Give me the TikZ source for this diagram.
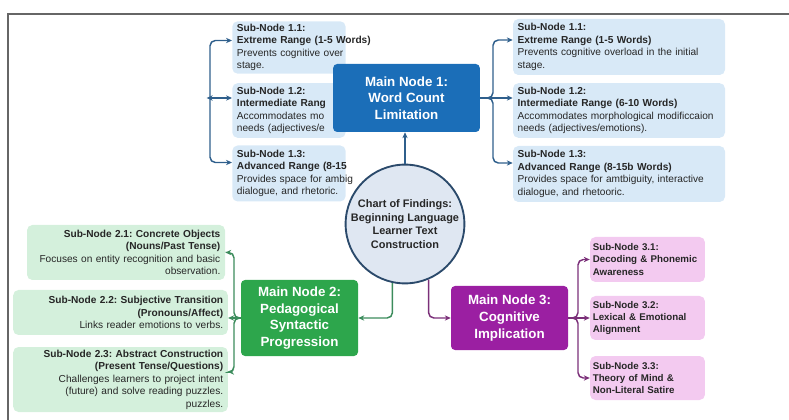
\documentclass[tikz,border=0pt]{standalone}
\usepackage{fontspec}
\setmainfont{Liberation Sans}
\usetikzlibrary{arrows.meta}

\definecolor{framegray}{HTML}{666666}
\definecolor{mainblue}{HTML}{1B6EB8}
\definecolor{subblue}{HTML}{D8E9F7}
\definecolor{lineblue}{HTML}{2F5F8C}
\definecolor{hubfill}{HTML}{DFE7F2}
\definecolor{hubline}{HTML}{2B4A6B}
\definecolor{maingreen}{HTML}{2DA64C}
\definecolor{subgreen}{HTML}{D4F0DC}
\definecolor{linegreen}{HTML}{3C8C5C}
\definecolor{mainpurple}{HTML}{9B1FA2}
\definecolor{subpink}{HTML}{F3CAF0}
\definecolor{linepurple}{HTML}{7B3079}
\definecolor{subtext}{HTML}{262626}

\tikzset{
  mainbox/.style={rounded corners=3pt, text=white, align=center, inner sep=2pt,
    font=\fontsize{10}{12.5}\selectfont\bfseries},
  subbox/.style={rounded corners=4pt, inner xsep=3.5pt, inner ysep=2pt,
    text=subtext, font=\fontsize{7.6}{9.4}\selectfont\frenchspacing},
  ghostbox/.style={subbox, fill=subblue, anchor=west, text width=78pt, align=left},
  pinkbox/.style={subbox, fill=subpink, inner xsep=2.1pt, text width=82pt, align=left,
    minimum height=33pt, font=\fontsize{7.3}{9.2}\selectfont\bfseries},
  link/.style={line width=1.1pt, ->, rounded corners=4pt},
}

\begin{document}
\begin{tikzpicture}[x=0.75pt, y=-0.75pt, >={Stealth[length=4.5pt,width=4pt]}]
\useasboundingbox (0,0) rectangle (789,420);

% Cornice
\draw[framegray, line width=1.2pt] (8,420) -- (8,14) -- (789,14);

% Sotto-nodi 1.x a sinistra (in parte nascosti)
\node[ghostbox, minimum height=39pt] (l11) at (232,47.5)
  {\textbf{Sub-Node 1.1:}\\\mbox{\textbf{Extreme Range (1-5 Words)}}\\\mbox{Prevents cognitive over}\\stage.};
\node[ghostbox, minimum height=41pt] (l12) at (232,110.5)
  {\textbf{Sub-Node 1.2:}\\\textbf{Intermediate Rang}\\Accommodates mo\\\mbox{needs (adjectives/e}};
\node[ghostbox, minimum height=42pt] (l13) at (232,173.5)
  {\textbf{Sub-Node 1.3:}\\\mbox{\textbf{Advanced Range (8-15}}\\\mbox{Provides space for ambig}\\\mbox{dialogue, and rhetoric.}};

% Sotto-nodi 1.x a destra
\node[subbox, fill=subblue, text width=152pt, align=left, minimum height=42pt] (r11) at (619,47)
  {\textbf{Sub-Node 1.1:}\\\textbf{Extreme Range (1-5 Words)}\\Prevents cognitive overload in the initial\\stage.};
\node[subbox, fill=subblue, text width=152pt, align=left, minimum height=41pt] (r12) at (619,110.5)
  {\textbf{Sub-Node 1.2:}\\\textbf{Intermediate Range (6-10 Words)}\\Accommodates morphological modificcaion\\needs (adjectives/emotions).};
\node[subbox, fill=subblue, text width=152pt, align=left, minimum height=42pt] (r13) at (619,174)
  {\textbf{Sub-Node 1.3:}\\\textbf{Advanced Range (8-15b Words)}\\Provides space for amtbiguity, interactive\\dialogue, and rhetooric.};

% Nodi principali
\node[mainbox, fill=mainblue, minimum width=110pt, minimum height=51pt] (m1) at (406.5,98)
  {Main Node 1:\\Word Count\\Limitation};
\node[mainbox, fill=maingreen, minimum width=87.75pt, minimum height=57pt] (m2) at (299.5,318)
  {Main Node 2:\\Pedagogical\\Syntactic\\Progression};
\node[mainbox, fill=mainpurple, minimum width=87.75pt, minimum height=48pt] (m3) at (509.5,318)
  {Main Node 3:\\Cognitive\\Implication};

% Nodo centrale
\node[circle, draw=hubline, line width=1.4pt, fill=hubfill, minimum size=87pt, inner sep=0pt,
  align=center, text=subtext, font=\fontsize{8.2}{10.3}\selectfont\bfseries] (hub) at (405,224)
  {Chart of Findings:\\Beginning Language\\Learner Text\\Construction};

% Sotto-nodi 2.x
\node[subbox, fill=subgreen, text width=141.5pt, align=right, minimum height=41.25pt] (s21) at (126,252.5)
  {\textbf{Sub-Node 2.1: Concrete Objects}\\\textbf{(Nouns/Past Tense)}\\Focuses on entity recognition and basic\\observation.};
\node[subbox, fill=subgreen, text width=154pt, align=right, minimum height=33.75pt] (s22) at (120.5,312.5)
  {\textbf{Sub-Node 2.2: Subjective Transition}\\\textbf{(Pronouns/Affect)}\\Links reader emotions to verbs.};
\node[subbox, fill=subgreen, text width=154pt, align=right, minimum height=48.75pt] (s23) at (120.5,379.5)
  {\textbf{Sub-Node 2.3: Abstract Construction}\\\textbf{(Present Tense/Questions)}\\Challenges learners to project intent\\(future) and solve reading puzzles.\\puzzles.};

% Sotto-nodi 3.x
\node[pinkbox, minimum height=33.75pt] (p31) at (647.5,259.5) {Sub-Node 3.1:\\Decoding \& Phonemic\\Awareness};
\node[pinkbox] (p32) at (647.5,318) {Sub-Node 3.2:\\Lexical \& Emotional\\Alignment};
\node[pinkbox] (p33) at (647.5,378) {Sub-Node 3.3:\\Theory of Mind \&\\Non-Literal Satire};

% Punti di diramazione
\coordinate (lb) at (210,98);
\coordinate (rb) at (493,98);
\coordinate (gb) at (234,318);
\coordinate (pb) at (578,318);

% Frecce dal nodo centrale
\draw[link, lineblue] (hub.north) -- (hub.north |- m1.south);
\draw[link, linegreen] (hub.258) |- (m2.east);
\draw[link, linepurple] (hub.293) |- (m3.west);

% Frecce blu
\draw[link, lineblue] (lb) |- ([yshift=5.25pt]l11.west);
\draw[link, lineblue, <->] ([xshift=-2.5pt]lb) -- (lb -| l12.west);
\draw[link, lineblue] (lb) |- ([yshift=8.25pt]l13.west);
\draw[link, lineblue] (m1.east) -- (rb) |- ([yshift=5.25pt]r11.west);
\draw[link, lineblue] (m1.east) -- (m1.east -| r12.west);
\draw[link, lineblue] (m1.east) -- (rb) |- ([yshift=8.25pt]r13.west);

% Frecce verdi
\draw[link, linegreen] (m2.west) -- (gb) |- (s21.east);
\draw[link, linegreen] (m2.west) -- (m2.west -| s22.east);
\draw[link, linegreen] (m2.west) -- (gb) |- ([yshift=5.6pt]s23.east);

% Frecce viola
\draw[link, linepurple] (m3.east) -- (pb) |- (p31.west);
\draw[link, linepurple] (m3.east) -- (m3.east -| p32.west);
\draw[link, linepurple] (m3.east) -- (pb) |- (p33.west);

\end{tikzpicture}
\end{document}
